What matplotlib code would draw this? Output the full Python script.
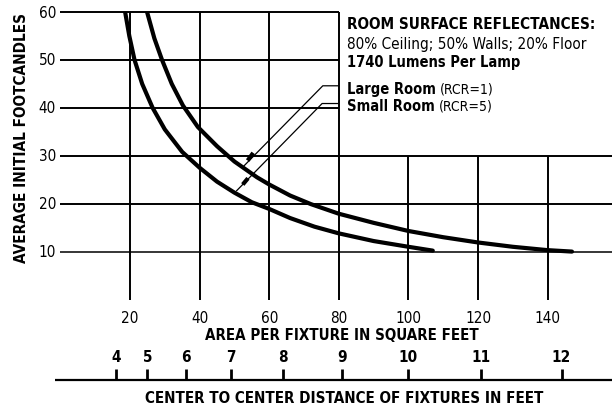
import matplotlib
matplotlib.use("Agg")
import matplotlib.pyplot as plt

plt.rcParams['font.family'] = ['DejaVu Sans']
plt.rcParams['font.stretch'] = 'condensed'

# Large Room (RCR=1) curve
large_area = [24.9, 27, 29.2, 32, 35.2, 39.5, 45, 50, 56.5, 60, 66, 72, 80, 90,
              100, 110, 120, 130, 140, 147]
large_fc = [60, 54.5, 50, 45, 40.5, 36, 32, 28.8, 25.5, 24, 21.7, 19.9, 17.9, 16,
            14.3, 13, 11.9, 11.0, 10.3, 10.0]

# Small Room (RCR=5) curve
small_area = [18.6, 19.8, 21.3, 23.5, 26.5, 30, 35, 40, 45, 50, 55, 60, 66, 73,
              80, 90, 100, 107]
small_fc = [60, 55, 50, 45, 40, 35.5, 30.8, 27.5, 24.6, 22.3, 20.3, 18.9, 17.0, 15.2,
            13.8, 12.2, 11.0, 10.2]

fc_ticks = [10, 20, 30, 40, 50, 60]
area_ticks = [20, 40, 60, 80, 100, 120, 140]
distance_ticks = [4, 5, 6, 7, 8, 9, 10, 11, 12]

note_lines = ["ROOM SURFACE REFLECTANCES:",
              "80% Ceiling; 50% Walls; 20% Floor",
              "1740 Lumens Per Lamp"]

fig = plt.figure(figsize=(6.12, 4.10), dpi=100)
ax = fig.add_axes([60.4 / 612, (410 - 300.5) / 410, (612 - 60.4) / 612, 287.5 / 410])
ax.set_xlim(0, 158.5)
ax.set_ylim(0, 60)
ax.axis('off')

k = dict(color='black', clip_on=False, solid_capstyle='butt')

# horizontal grid: upper three stop at the note box (x=80)
for v in fc_ticks:
    right = 80 if v > 30 else 158.5
    ax.plot([0, right], [v, v], lw=1.4 if v != 10 else 1.1, **k)
    ax.text(-1.3, v, str(v), ha='right', va='center', fontsize=11)

# vertical grid, running down to act as tick marks
for a in area_ticks:
    top = 60 if a <= 80 else 30
    ax.plot([a, a], [0, top], lw=1.4, **k)
    ax.text(a, -3.7, str(a), ha='center', va='center', fontsize=11)

ax.plot(large_area, large_fc, lw=3.0, color='black', solid_capstyle='round')
ax.plot(small_area, small_fc, lw=3.0, color='black', solid_capstyle='round')

# leader lines from the labels to the curves
ax.plot([80, 75.4, 52.5], [44.6, 44.6, 27.7], lw=0.9, **k)
ax.plot([80, 75.2, 50.5], [40.9, 40.9, 22.6], lw=0.9, **k)
ax.plot([55.4, 53.8], [30.6, 29.0], lw=3, **k)
ax.plot([53.9, 52.4], [25.3, 24.0], lw=3, **k)

# note box text
ax.text(82.4, 57.7, note_lines[0], fontsize=11, fontweight='bold', va='center')
ax.text(82.4, 53.4, note_lines[1], fontsize=11, va='center')
ax.text(82.4, 49.7, note_lines[2], fontsize=10.5, fontweight='bold', va='center')
t = ax.text(82.4, 44.1, "Large Room", fontsize=10.5, fontweight='bold', va='center')
ax.annotate("(RCR=1)", xycoords=t, xy=(1, 0.5), xytext=(2.5, 0),
            textcoords='offset points', va='center', fontsize=10)
t = ax.text(82.4, 40.5, "Small Room", fontsize=10.5, fontweight='bold', va='center')
ax.annotate("(RCR=5)", xycoords=t, xy=(1, 0.5), xytext=(2.5, 0),
            textcoords='offset points', va='center', fontsize=10)

ax.text(81, -7.4, "AREA PER FIXTURE IN SQUARE FEET", ha='center', va='center',
        fontsize=10.8, fontweight='bold')
ax.text(-11.2, 33.9, "AVERAGE INITIAL FOOTCANDLES", ha='center', va='center',
        rotation=90, fontsize=11, fontweight='bold')

# second scale: center to center spacing, area = distance squared
ax.plot([-1.6, 158.5], [-16.8, -16.8], lw=1.6, **k)
for d in distance_ticks:
    ax.plot([d ** 2, d ** 2], [-16.8, -14.4], lw=2, **k)
    ax.text(d ** 2, -11.8, str(d), ha='center', va='center', fontsize=11,
            fontweight='bold')
ax.text(81.5, -20.4, "CENTER TO CENTER DISTANCE OF FIXTURES IN FEET", ha='center',
        va='center', fontsize=10.9, fontweight='bold')

fig.savefig('out.png', dpi=100)
